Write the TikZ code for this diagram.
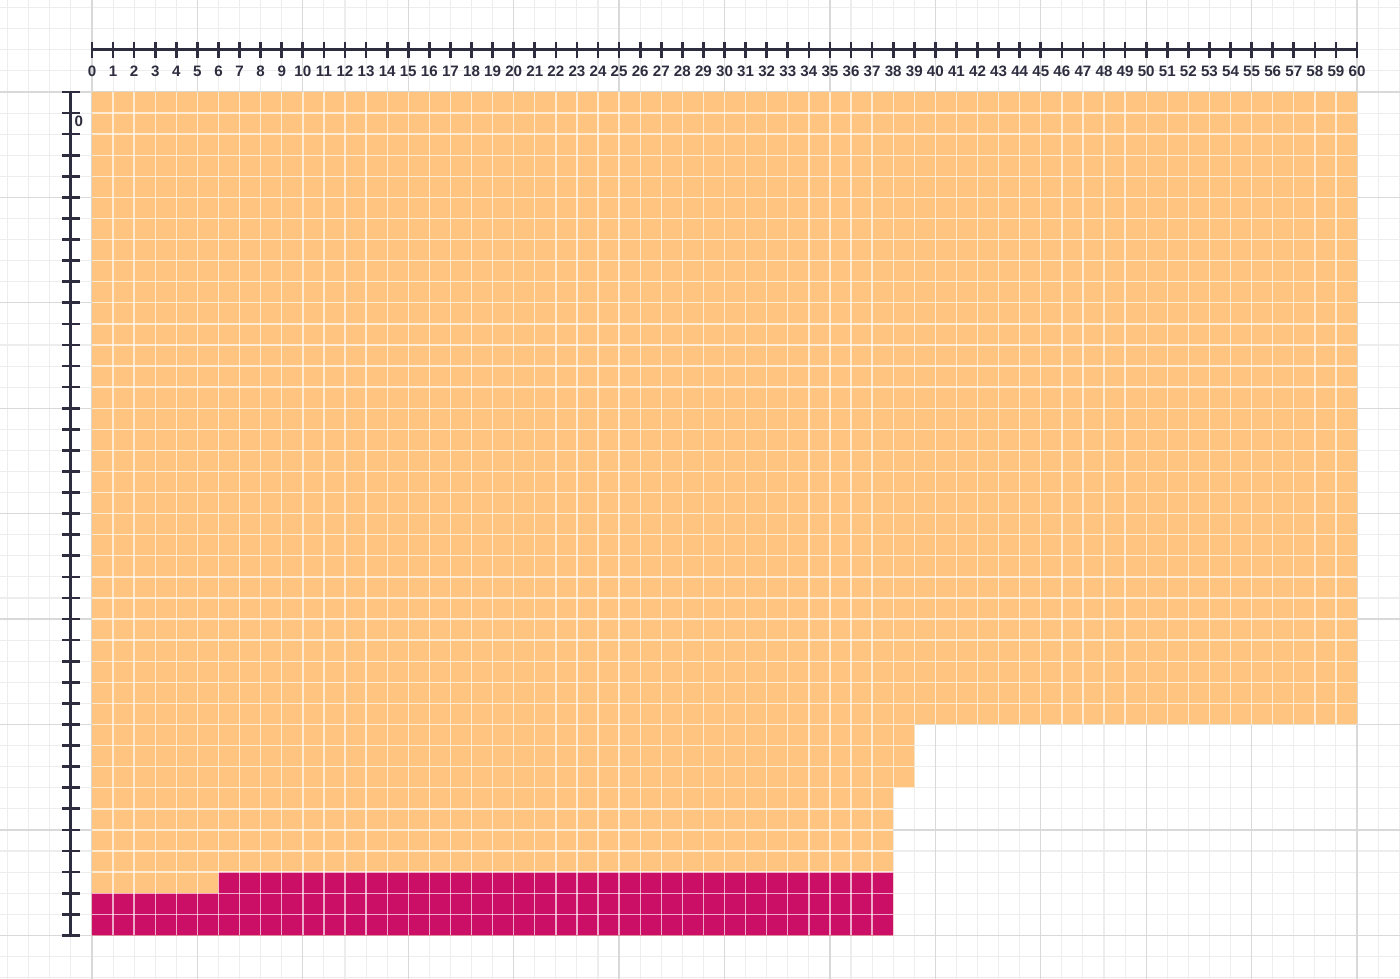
\documentclass[tikz,border=0pt]{standalone}
\usepackage{fontspec}
\setmainfont{Liberation Sans}
\definecolor{axiscol}{HTML}{2D2D3F}
\definecolor{cellorange}{HTML}{FFC47F}
\definecolor{cellmagenta}{HTML}{CC0F66}
\definecolor{gridminor}{HTML}{EDEDED}
\definecolor{gridmajor}{HTML}{D9D9D9}
\tikzset{
  minorgrid/.style={draw=gridminor, line width=0.7pt},
  majorgrid/.style={draw=gridmajor, line width=0.8pt},
  axisline/.style={draw=axiscol, line width=2pt},
  tickline/.style={draw=axiscol, line width=1.8pt},
  ticklabel/.style={text=axiscol, font=\fontsize{10.2}{11}\selectfont\bfseries, inner sep=0pt},
  celllines/.style={draw=white, opacity=0.65, line width=0.9pt},
}
\begin{document}
\begin{tikzpicture}[x=0.5cm, y=-0.5cm]
\useasboundingbox (-4.3636,-4.3636) rectangle (62.04,42.07);
\fill[white] (-4.3636,-4.3636) rectangle (62.04,42.07);
% background grid
\foreach \k in {-4,...,62}{
  \draw[minorgrid] (\k,-4.3636) -- (\k,42.07);
}
\foreach \k in {-4,...,42}{
  \draw[minorgrid] (-4.3636,\k) -- (62.04,\k);
}
\foreach \k in {0,5,...,60}{
  \draw[majorgrid] (\k,-4.3636) -- (\k,42.07);
}
\foreach \k in {0,5,...,40}{
  \draw[majorgrid] (-4.3636,\k) -- (62.04,\k);
}
% orange area
\fill[cellorange] (0,0) -- (60,0) -- (60,30) -- (39,30) -- (39,33) -- (38,33) -- (38,40) -- (0,40) -- cycle;
% magenta area
\fill[cellmagenta] (0,38) -- (6,38) -- (6,37) -- (38,37) -- (38,40) -- (0,40) -- cycle;
% cell lines
\begin{scope}
\clip (0,0) -- (60,0) -- (60,30) -- (39,30) -- (39,33) -- (38,33) -- (38,40) -- (0,40) -- cycle;
\foreach \k in {1,...,59}{
  \draw[celllines] (\k,0) -- (\k,40);
}
\foreach \k in {1,...,39}{
  \draw[celllines] (0,\k) -- (60,\k);
}
\end{scope}
% top ruler
\coordinate (hx0) at (0,-2);
\coordinate (hx60) at (60,-2);
\draw[axisline] (hx0) -- (hx60);
\foreach \i in {0,...,60}{
  \coordinate (ht\i) at (\i,-2);
  \draw[tickline] ([yshift=0.19cm]ht\i) -- ([yshift=-0.19cm]ht\i);
  \node[ticklabel] (hl\i) at (\i,-1.0) {\i};
}
% left ruler
\coordinate (vy0) at (-1,0);
\coordinate (vy40) at (-1,40);
\draw[axisline] (vy0) -- (vy40);
\foreach \j in {0,...,40}{
  \coordinate (vt\j) at (-1,\j);
  \draw[tickline] ([xshift=-0.21cm]vt\j) -- ([xshift=0.21cm]vt\j);
}
\node[ticklabel] (vl0) at (-0.62,1.41) {0};
\end{tikzpicture}
\end{document}
